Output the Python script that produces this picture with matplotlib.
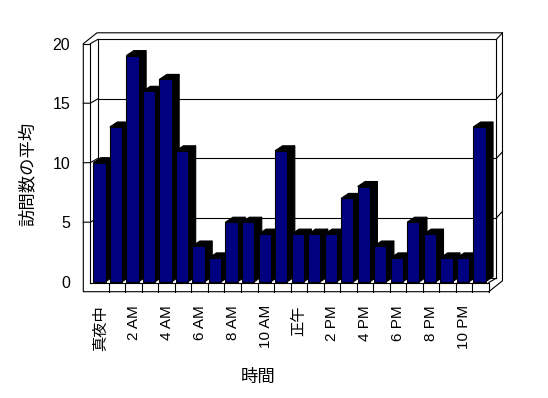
import matplotlib
matplotlib.use('Agg')
import matplotlib.pyplot as plt
from matplotlib.patches import Polygon
import numpy as np

plt.rcParams['font.family'] = ['Liberation Sans', 'Noto Sans CJK JP', 'DejaVu Sans']

# ---- data ----
hours = np.arange(24)
visits = [10, 13, 19, 16, 17, 11, 3, 2, 5, 5, 4, 11, 4, 4, 4, 7, 8, 3, 2, 5, 4, 2, 2, 13]
tick_pos = hours[::2]
tick_labels = ['真夜中', '2 AM', '4 AM', '6 AM', '8 AM', '10 AM',
               '正午', '2 PM', '4 PM', '6 PM', '8 PM', '10 PM']
yticks = [0, 5, 10, 15, 20]
ylabel = '訪問数の平均'
xlabel = '時間'

# ---- layout ----
W, H = 548, 398
PXX, PXY = 16.52, 11.9          # pixels per category / per value unit
ax_left_px, ax_bottom_px = 92.3, H - 281.7

fig = plt.figure(figsize=(W / 100, H / 100), dpi=100)
fig.patch.set_facecolor('white')
ax = fig.add_axes([ax_left_px / W, ax_bottom_px / H, 24 * PXX / W, 20 * PXY / H])
XL, XR = -0.5, 23.5
YB, YT = 0, 20
ax.set_xlim(XL, XR)
ax.set_ylim(YB, YT)
for s in ax.spines.values():
    s.set_visible(False)
ax.patch.set_visible(False)


def px(dx, dy):
    return dx / PXX, dy / PXY


LW = 0.8
K = dict(color='black', lw=LW, clip_on=False, solid_capstyle='projecting', zorder=1)

Ddx, Ddy = px(7.7, 4.4)      # depth of the chart box
Tdx, Tdy = px(6.0, 6.5)      # wall thickness
xo = XL - 9 / PXX            # left wall outer edge
xi = XL - 2 / PXX            # left wall inner edge
yft = -0.8 / PXY             # floor top front edge
yfb = -10 / PXY              # floor bottom front edge


def line(pts, **kw):
    xs, ys = zip(*pts)
    d = dict(K)
    d.update(kw)
    ax.plot(xs, ys, **d)


# outer silhouette
line([(XR, yfb), (xo, yfb), (xo, YT), (xo + Ddx + Tdx, YT + Ddy + Tdy),
      (XR + Ddx + Tdx, YT + Ddy + Tdy), (XR + Ddx + Tdx, yfb + Ddy + Tdy), (XR, yfb)])
# left wall front face
line([(xo, YT), (xi, YT)])
line([(xi, yft), (xi, YT)])
line([(xi, YT), (xi + Ddx, YT + Ddy)])
# floor
line([(xi, yft), (XR, yft)])
line([(XR, yft), (XR, yfb)])
line([(XR, yft), (XR + Ddx, yft + Ddy)])
for k in range(1, 24):
    line([(XL + k, yft), (XL + k, yfb)])
# back wall
line([(xi + Ddx, yft + Ddy), (xi + Ddx, YT + Ddy), (XR + Ddx, YT + Ddy),
      (XR + Ddx, yft + Ddy)])
line([(XR + Ddx, YT + Ddy), (XR + Ddx + Tdx, YT + Ddy + Tdy)])
line([(xi + Ddx, yft + Ddy), (XR + Ddx, yft + Ddy)])
for v in yticks[1:-1]:
    line([(xi + Ddx, v + Ddy), (XR + Ddx, v + Ddy)])
    line([(xo, v), (xi, v), (xi + Ddx, v + Ddy)])
    line([(XR + Ddx, v + Ddy), (XR + Ddx + Tdx, v + Ddy + Tdy)])

# ---- bars ----
off = 1 / PXX
bw = 12.3 / PXX
bdx, bdy = px(7.5, 5.0)
for i, v in zip(hours, visits):
    x0 = i - 0.5 + off
    x1 = x0 + bw
    side = Polygon([(x1, 0), (x1 + bdx, bdy), (x1 + bdx, v + bdy), (x1, v)],
                   closed=True, fc='black', ec='black', lw=LW, zorder=3, clip_on=False)
    top = Polygon([(x0, v), (x1, v), (x1 + bdx, v + bdy), (x0 + bdx, v + bdy)],
                  closed=True, fc='black', ec='black', lw=LW, zorder=3, clip_on=False)
    ax.add_patch(side)
    ax.add_patch(top)
ax.bar(hours - 0.5 + off, visits, width=bw, align='edge', color='#000080',
       edgecolor='black', linewidth=LW, zorder=4, clip_on=False)

# ---- ticks & labels ----
ax.set_xticks(tick_pos)
ax.set_xticklabels(tick_labels, rotation=90, fontsize=11)
ax.set_yticks(yticks)
ax.set_yticklabels([str(t) for t in yticks], fontsize=11.5)
ax.tick_params(axis='x', length=0, pad=16.8)
ax.tick_params(axis='y', length=0, pad=16)

fig.text(27 / W, 1 - 174 / H, ylabel, rotation=90, ha='center', va='center', fontsize=12.5)
fig.text(258 / W, 1 - 376.7 / H, xlabel, ha='center', va='center', fontsize=12.5)

fig.savefig('out.png', dpi=100, facecolor='white')
